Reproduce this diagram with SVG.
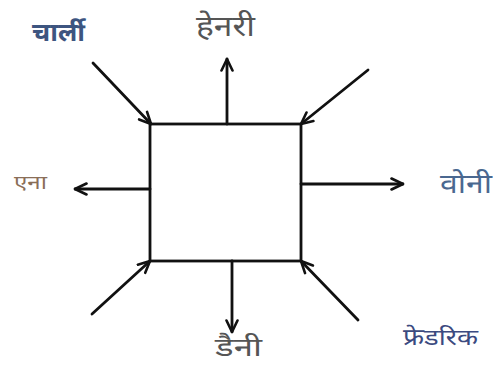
<svg xmlns="http://www.w3.org/2000/svg" width="493" height="365" viewBox="0 0 493 365">
<defs>
<marker id="ah" viewBox="0 0 14 14" refX="13" refY="7" markerWidth="14" markerHeight="14" markerUnits="userSpaceOnUse" orient="auto">
<path d="M1.5,1.5 L13,7 L1.5,12.5" fill="none" stroke="#111" stroke-width="2.6" stroke-linecap="round" stroke-linejoin="round"/>
</marker>
<style>
.c{stroke:#111;stroke-width:2.8;fill:none;stroke-linecap:round}
.t{font-family:"Noto Sans","Lato",sans-serif}
</style>
</defs>
<rect width="493" height="365" fill="#fff"/>
<g id="box"><rect x="150" y="124" width="151" height="137" fill="none" stroke="#111" stroke-width="2.8"/></g>
<g id="connectors">
<line class="c" x1="93" y1="63" x2="151" y2="124" marker-end="url(#ah)"/>
<line class="c" x1="227" y1="124" x2="227" y2="59" marker-end="url(#ah)"/>
<line class="c" x1="368" y1="70" x2="301" y2="124" marker-end="url(#ah)"/>
<line class="c" x1="150" y1="189" x2="75" y2="189" marker-end="url(#ah)"/>
<line class="c" x1="301" y1="184" x2="403" y2="184" marker-end="url(#ah)"/>
<line class="c" x1="92" y1="314" x2="150" y2="261" marker-end="url(#ah)"/>
<line class="c" x1="232" y1="261" x2="232" y2="332" marker-end="url(#ah)"/>
<line class="c" x1="358" y1="320" x2="301" y2="261" marker-end="url(#ah)"/>
</g>
<g id="charlie"><text class="t" x="32" y="41" font-size="25" fill="#3d5580" font-weight="bold" textLength="53" lengthAdjust="spacingAndGlyphs">चार्ली</text></g>
<g id="henry"><text class="t" x="196" y="36" font-size="28" fill="#555" textLength="59" lengthAdjust="spacingAndGlyphs">हेनरी</text></g>
<g id="ena"><text class="t" x="14" y="189" font-size="19" fill="#8a6e58" textLength="33" lengthAdjust="spacingAndGlyphs">एना</text></g>
<g id="voni"><text class="t" x="440" y="193" font-size="27" fill="#4a6890" textLength="52" lengthAdjust="spacingAndGlyphs">वोनी</text></g>
<g id="danny"><text class="t" x="215" y="356" font-size="25" fill="#555" textLength="47" lengthAdjust="spacingAndGlyphs">डैनी</text></g>
<g id="frederick"><text class="t" x="403" y="345" font-size="23" fill="#3b4a80" textLength="75" lengthAdjust="spacingAndGlyphs">फ्रेडरिक</text></g>
</svg>
